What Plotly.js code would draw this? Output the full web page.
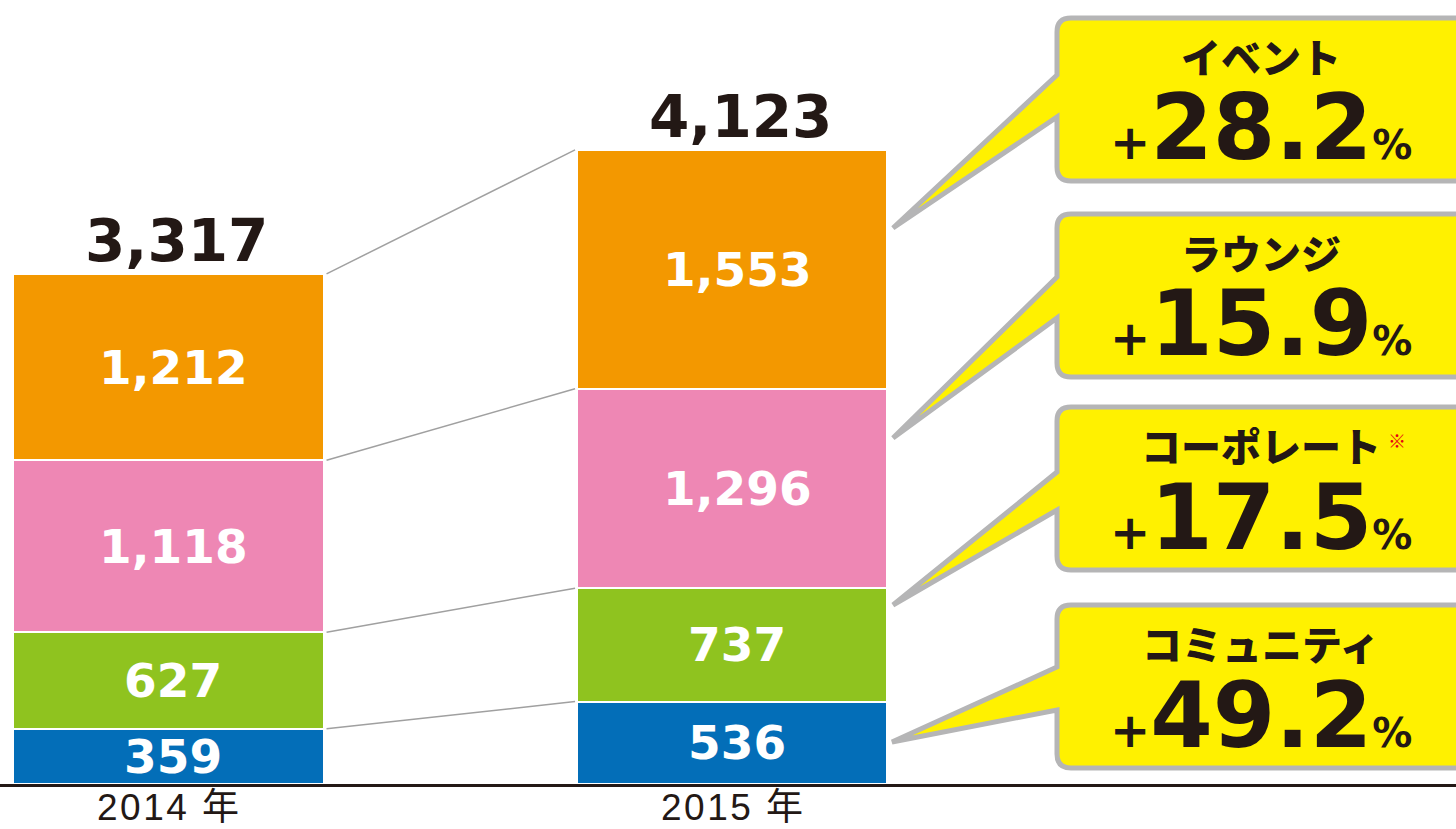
<!DOCTYPE html>
<html>
<head>
<meta charset="utf-8">
<script src="https://cdn.plot.ly/plotly-3.0.1.min.js"></script>
<style>html,body{margin:0;padding:0;background:#fff;}#chart{width:1456px;height:829px;}</style>
</head>
<body>
<div id="chart"></div>
<script>
// ---------- data ----------
const years = ['2014 年', '2015 年'];
const community = [359, 536];
const corporate = [627, 737];
const lounge = [1118, 1296];
const eventVals = [1212, 1553];
const totals = [3317, 4123];
const growthNames = ['イベント', 'ラウンジ', 'コーポレート', 'コミュニティ'];
const growthNotes = ['', '', '※', ''];
const growthRates = ['28.2', '15.9', '17.5', '49.2'];

// ---------- styling ----------
const seriesList = [
  {name: 'コミュニティ', vals: community, color: '#036EB8'},
  {name: 'コーポレート', vals: corporate, color: '#8FC31F'},
  {name: 'ラウンジ', vals: lounge, color: '#EE87B4'},
  {name: 'イベント', vals: eventVals, color: '#F39800'}
];
const W = 1456, H = 829, B = 45, PH = H - B;
const BARW = 0.551;
const XR = [-0.299, 2.2848];
const YMAX = 5096;
const DARK = '#231815';
const YELLOW = '#FFF100';
const px = x => x / W;
const py = y => (PH - y) / PH;

const xs = years.map((_, i) => i);
const traces = seriesList.map(s => ({
  type: 'bar', x: xs, y: s.vals, name: s.name, width: BARW,
  marker: {color: s.color, line: {color: '#ffffff', width: 2}},
  hoverinfo: 'skip'
}));

const annotations = [];
const shapes = [];

// segment value labels + connector lines
const cum = years.map(() => 0);
seriesList.forEach(s => {
  const tops = [];
  s.vals.forEach((v, i) => {
    annotations.push({
      x: i, y: cum[i] + v / 2, xref: 'x', yref: 'y', showarrow: false,
      text: v.toLocaleString('en-US'), xanchor: 'center', yanchor: 'middle', xshift: 5,
      font: {family: 'DejaVu Sans', size: 47, color: '#ffffff', weight: 'bold'}
    });
    cum[i] += v;
    tops.push(cum[i]);
  });
  shapes.push({
    type: 'line', xref: 'x', yref: 'y', layer: 'below',
    x0: 0 + BARW / 2 + 0.005, y0: tops[0], x1: 1 - BARW / 2 - 0.003, y1: tops[1],
    line: {color: '#A0A0A0', width: 1.5}
  });
});

// totals
totals.forEach((t, i) => {
  annotations.push({
    x: i, y: cum[i], xref: 'x', yref: 'y', showarrow: false,
    text: t.toLocaleString('en-US'), xanchor: 'center', yanchor: 'bottom', yshift: -3, xshift: 8,
    font: {family: 'DejaVu Sans', size: 58, color: DARK, weight: 'bold'}
  });
});

// year labels (category axis labels)
years.forEach((yl, i) => {
  annotations.push({
    x: i, y: py(808), xref: 'x', yref: 'paper', showarrow: false,
    text: '<span style="letter-spacing:2.5px">' + yl + '</span>', xanchor: 'center', yanchor: 'middle', xshift: 1,
    font: {family: 'Liberation Sans, Noto Sans CJK JP', size: 37, color: DARK}
  });
});

// callouts
const boxTops = [18, 214, 407, 605];
const BOXH = 163, BX0 = 1057, BX1 = 1530, R = 14;
const baseOff = [[57, 99], [63, 104], [65, 103], [62, 105]];
const tips = [[893, 228], [893, 438], [893, 605], [892, 742]];
const TXC = 1261;
const P = (x, y) => px(x).toFixed(5) + ',' + py(y).toFixed(5);
boxTops.forEach((top, k) => {
  const bot = top + BOXH;
  const b0 = top + baseOff[k][0], b1 = top + baseOff[k][1];
  const path = 'M ' + P(BX0 + R, top) + ' L ' + P(BX1, top) + ' L ' + P(BX1, bot) +
    ' L ' + P(BX0 + R, bot) + ' Q ' + P(BX0, bot) + ' ' + P(BX0, bot - R) +
    ' L ' + P(BX0, b1) + ' L ' + P(tips[k][0], tips[k][1]) + ' L ' + P(BX0, b0) +
    ' L ' + P(BX0, top + R) + ' Q ' + P(BX0, top) + ' ' + P(BX0 + R, top) + ' Z';
  shapes.push({
    type: 'path', xref: 'paper', yref: 'paper', path: path, layer: 'above',
    fillcolor: YELLOW, line: {color: '#B5B5B6', width: 5}
  });
  const catCenter = top + 38;
  const baseline = top + 140;
  annotations.push({
    x: px(TXC), y: py(catCenter), xref: 'paper', yref: 'paper', showarrow: false,
    text: growthNames[k], xanchor: 'center', yanchor: 'middle',
    font: {family: 'Noto Sans CJK JP', size: 40, color: DARK, weight: 900}
  });
  annotations.push({
    x: px(TXC), y: py(baseline - 30), xref: 'paper', yref: 'paper', showarrow: false,
    text: '<span style="font-size:48px">+</span>' + growthRates[k] + '<span style="font-size:40px">%</span>',
    xanchor: 'center', yanchor: 'middle',
    font: {family: 'DejaVu Sans', size: 90, color: DARK, weight: 'bold'}
  });
  if (growthNotes[k]) {
    annotations.push({
      x: px(1386), y: py(top + 33), xref: 'paper', yref: 'paper', showarrow: false,
      text: growthNotes[k], xanchor: 'left', yanchor: 'middle',
      font: {family: 'Noto Sans CJK JP', size: 18, color: '#E60012'}
    });
  }
});

const layout = {
  width: W, height: H,
  margin: {l: 0, r: 0, t: 0, b: B, pad: 0},
  barmode: 'stack', showlegend: false,
  paper_bgcolor: '#ffffff', plot_bgcolor: '#ffffff',
  xaxis: {
    range: XR, tickvals: xs, ticktext: years, showticklabels: false, showgrid: false, zeroline: false,
    showline: true, linecolor: DARK, linewidth: 3, ticks: '',
    fixedrange: true
  },
  yaxis: {range: [0, YMAX], visible: false, fixedrange: true},
  annotations: annotations, shapes: shapes
};

Plotly.newPlot('chart', traces, layout, {displayModeBar: false, staticPlot: true});
</script>
</body>
</html>
